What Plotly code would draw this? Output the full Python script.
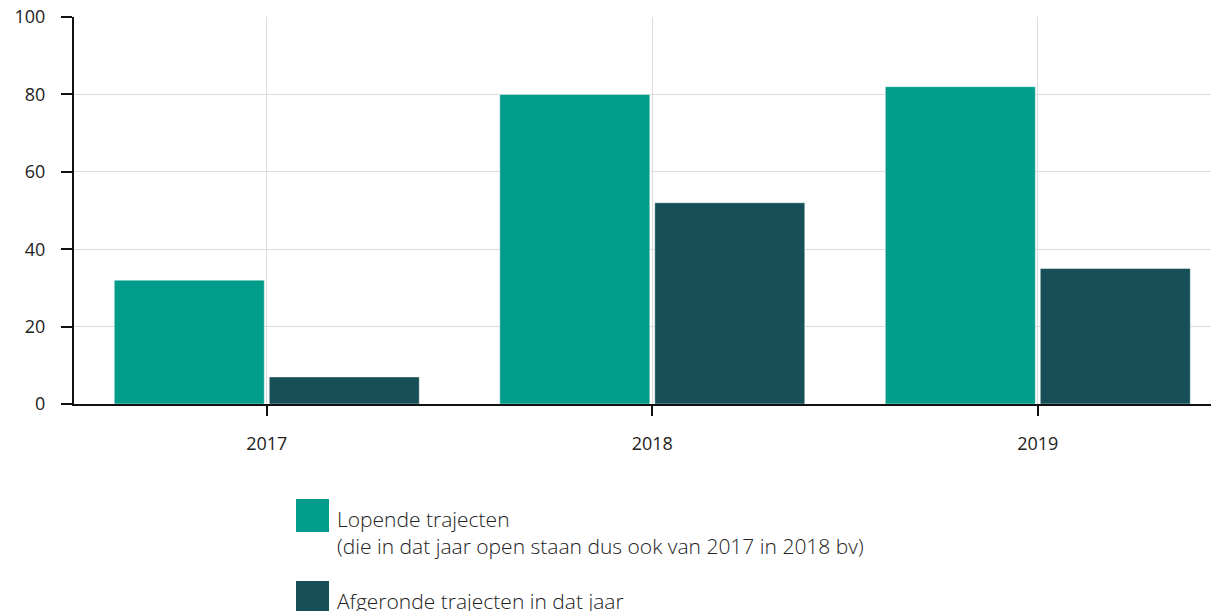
import plotly.graph_objects as go

years = ["2017", "2018", "2019"]
lopende = [32, 80, 82]
afgeronde = [7, 52, 35]
series_names = ["Lopende trajecten<br>(die in dat jaar open staan dus ook van 2017 in 2018 bv)",
                "Afgeronde trajecten in dat jaar"]
colors = ["#029c8a", "#164f58"]
y_ticks = [0, 20, 40, 60, 80, 100]

fig = go.Figure()
for vals, col, name in zip([lopende, afgeronde], colors, series_names):
    fig.add_trace(go.Bar(x=years, y=vals, name=name,
                         marker=dict(color=col, line=dict(color="rgba(255,255,255,0.45)", width=1)),
                         showlegend=False))

OFF = 8  # page body offset
W, H = 1219, 611
L, R, T, B = 74, 1219, 17, 404  # desired plot area in page pixels
pw = R - L
ph = B - T

def px(x):
    return (x - L) / pw

def py(y):
    return (B - y) / ph

# custom legend (page pixel coords)
for i, (col, name) in enumerate(zip(colors, series_names)):
    top = 499 + i * 82
    fig.add_shape(type="rect", xref="paper", yref="paper", x0=px(296), x1=px(329), y0=py(top + 33), y1=py(top),
                  fillcolor=col, line=dict(width=0))
    fig.add_annotation(xref="paper", yref="paper", x=px(335), y=py(top + 4), xanchor="left", yanchor="top",
                       text=name, showarrow=False, align="left",
                       font=dict(family="Open Sans", size=21, color="#222", weight=300))

axis_common = dict(showgrid=True, gridcolor="#dcdcdc", gridwidth=1, showline=True, linecolor="#111",
                   linewidth=2, ticks="outside", tickcolor="#111", tickwidth=2, zeroline=False,
                   ticklabeloverflow="allow", automargin=False,
                   tickfont=dict(family="Open Sans", size=18, color="#222"))

fig.update_layout(
    width=W, height=H,
    margin=dict(l=L - OFF, r=W - R + OFF, t=T - OFF, b=H - B + OFF, autoexpand=False),
    paper_bgcolor="white", plot_bgcolor="white",
    barmode="group", bargap=0.196, bargroupgap=0.032,
    font=dict(family="Open Sans", size=18, color="#222"),
    xaxis=dict(type="category", range=[-0.5, 2.47], ticklen=10, ticklabelstandoff=12, **axis_common),
    yaxis=dict(range=[0, 100], tickvals=y_ticks, ticklen=11, ticklabelstandoff=12, **axis_common),
)

fig.write_html("out.html")
